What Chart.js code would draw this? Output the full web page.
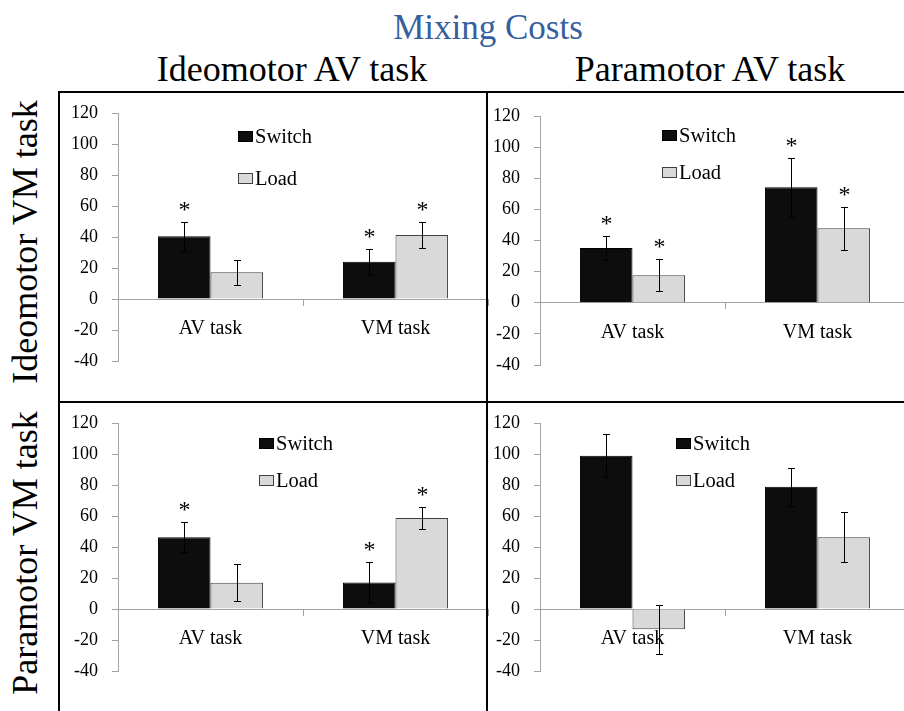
<!DOCTYPE html>
<html>
<head>
<meta charset="utf-8">
<script src="https://cdn.jsdelivr.net/npm/chart.js@4.4.0/dist/chart.umd.min.js"></script>
<style>
  html, body { margin: 0; padding: 0; background: #fff; overflow: hidden; }
  body { width: 904px; height: 711px; position: relative; font-family: "Liberation Serif", "Times New Roman", serif; }
  canvas { position: absolute; left: 0; top: 0; }
  .txt { position: absolute; white-space: nowrap; line-height: 1; color: #000; }
  .rule { position: absolute; background: #000; z-index: 5; }
</style>
</head>
<body>
<div class="txt" style="left:488px; top:10px; font-size:35px; color:#365f9e; transform:translateX(-50%);">Mixing Costs</div>
<div class="txt" style="left:292px; top:51px; font-size:36px; transform:translateX(-50%);">Ideomotor AV task</div>
<div class="txt" style="left:710px; top:51px; font-size:36px; transform:translateX(-50%);">Paramotor AV task</div>
<div class="txt" style="left:25px; top:242px; font-size:36px; transform:translate(-50%,-50%) rotate(-90deg);">Ideomotor VM task</div>
<div class="txt" style="left:25px; top:553px; font-size:36px; transform:translate(-50%,-50%) rotate(-90deg);">Paramotor VM task</div>

<canvas id="tl" width="920" height="711"></canvas>
<canvas id="tr" width="920" height="711"></canvas>
<canvas id="bl" width="920" height="711"></canvas>
<canvas id="br" width="920" height="711"></canvas>

<div class="rule" style="left:58px; top:91px; width:846px; height:2px;"></div>
<div class="rule" style="left:58px; top:401px; width:846px; height:2px;"></div>
<div class="rule" style="left:58px; top:91px; width:2px; height:620px;"></div>
<div class="rule" style="left:486px; top:91px; width:2px; height:620px;"></div>

<script>
const categories = ['AV task', 'VM task'];
const seriesNames = ['Switch', 'Load'];
const yTickValues = [-40, -20, 0, 20, 40, 60, 80, 100, 120];

// Ideomotor VM task / Ideomotor AV task (top left)
const ideoIdeoSwitch = [40.5, 24];
const ideoIdeoLoad = [17.2, 41.3];
const ideoIdeoSwitchErr = [9.3, 8.3];
const ideoIdeoLoadErr = [8.2, 8.7];
const ideoIdeoSwitchSig = [true, true];
const ideoIdeoLoadSig = [false, true];

// Ideomotor VM task / Paramotor AV task (top right)
const ideoParaSwitch = [35.2, 74.2];
const ideoParaLoad = [17.6, 47.8];
const ideoParaSwitchErr = [8, 18.8];
const ideoParaLoadErr = [10.3, 14];
const ideoParaSwitchSig = [true, true];
const ideoParaLoadSig = [true, true];

// Paramotor VM task / Ideomotor AV task (bottom left)
const paraIdeoSwitch = [46.3, 17.1];
const paraIdeoLoad = [16.9, 58.7];
const paraIdeoSwitchErr = [9.8, 13.5];
const paraIdeoLoadErr = [11.9, 7];
const paraIdeoSwitchSig = [true, true];
const paraIdeoLoadSig = [false, true];

// Paramotor VM task / Paramotor AV task (bottom right)
const paraParaSwitch = [98.8, 78.8];
const paraParaLoad = [-13.1, 46.3];
const paraParaSwitchErr = [13.9, 12.1];
const paraParaLoadErr = [15.8, 16.1];
const paraParaSwitchSig = [false, false];
const paraParaLoadSig = [false, false];

const FONT = '"Liberation Serif", "Times New Roman", serif';
const AXIS_GRAY = '#a3a3a3';
const Y_AXIS_W = 50;
const CANVAS_W = 920, CANVAS_H = 711;

// error bars + significance stars
const errorBarPlugin = {
    id: 'errorBars',
    afterDatasetsDraw(chart) {
        const ctx = chart.ctx;
        const yScale = chart.scales.y;
        chart.data.datasets.forEach((ds, i) => {
            const meta = chart.getDatasetMeta(i);
            meta.data.forEach((bar, j) => {
                const v = ds.data[j], e = ds.errors[j];
                const x = Math.round(bar.x) + 0.5;
                const top = Math.round(yScale.getPixelForValue(v + e)) + 0.5;
                const bottom = Math.round(yScale.getPixelForValue(v - e)) + 0.5;
                ctx.save();
                ctx.strokeStyle = '#000';
                ctx.lineWidth = 1;
                ctx.beginPath();
                ctx.moveTo(x, top); ctx.lineTo(x, bottom);
                ctx.moveTo(x - 3.5, top); ctx.lineTo(x + 3.5, top);
                ctx.moveTo(x - 3.5, bottom); ctx.lineTo(x + 3.5, bottom);
                ctx.stroke();
                if (ds.sig[j]) {
                    ctx.fillStyle = '#000';
                    ctx.font = '24px ' + FONT;
                    ctx.textAlign = 'center';
                    ctx.textBaseline = 'alphabetic';
                    ctx.fillText('*', x, top - 6);
                }
                ctx.restore();
            });
        });
    }
};

// legend drawn inside the plot
const boxLegendPlugin = {
    id: 'boxLegend',
    afterDraw(chart, args, opts) {
        const ctx = chart.ctx;
        const area = chart.chartArea;
        chart.data.datasets.forEach((ds, i) => {
            const x = area.left + opts.x;
            const y = area.top + opts.y + i * opts.gap;
            ctx.save();
            ctx.fillStyle = ds.backgroundColor;
            ctx.fillRect(x, y, 15, 11);
            ctx.strokeStyle = ds.borderColor;
            ctx.lineWidth = 1;
            ctx.strokeRect(x + 0.5, y + 0.5, 14, 10);
            ctx.fillStyle = '#000';
            ctx.font = '20.5px ' + FONT;
            ctx.textAlign = 'left';
            ctx.textBaseline = 'alphabetic';
            ctx.fillText(ds.label, x + 17, y + 12);
            ctx.restore();
        });
    }
};

function drawPanel(id, area, legendPos, switchVals, loadVals, switchErr, loadErr, switchSig, loadSig) {
    const canvas = document.getElementById(id);
    new Chart(canvas, {
        type: 'bar',
        data: {
            labels: categories,
            datasets: [{
                label: seriesNames[0],
                data: switchVals,
                errors: switchErr,
                sig: switchSig,
                backgroundColor: '#0d0d0d',
                borderColor: '#000000',
                borderWidth: 1,
                categoryPercentage: 0.568,
                barPercentage: 1
            }, {
                label: seriesNames[1],
                data: loadVals,
                errors: loadErr,
                sig: loadSig,
                backgroundColor: '#d9d9d9',
                borderColor: '#404040',
                borderWidth: 1,
                categoryPercentage: 0.568,
                barPercentage: 1
            }]
        },
        options: {
            responsive: false,
            animation: false,
            events: [],
            layout: {
                padding: {
                    left: area.left - Y_AXIS_W,
                    top: area.top,
                    right: CANVAS_W - area.right,
                    bottom: CANVAS_H - area.bottom
                }
            },
            plugins: {
                legend: { display: false },
                tooltip: { enabled: false },
                boxLegend: legendPos
            },
            scales: {
                x: {
                    position: { y: 0 },
                    offset: true,
                    border: { color: AXIS_GRAY, width: 1 },
                    grid: { drawOnChartArea: false, drawTicks: true, tickLength: 6, color: AXIS_GRAY, offset: true },
                    ticks: { color: '#000', font: { family: FONT, size: 20 }, padding: 12, maxRotation: 0 }
                },
                y: {
                    min: -40,
                    max: 120,
                    afterBuildTicks(scale) { scale.ticks = yTickValues.map(v => ({ value: v })); },
                    afterFit(scale) { scale.width = Y_AXIS_W; },
                    border: { color: AXIS_GRAY, width: 1 },
                    grid: { drawOnChartArea: false, tickLength: 6, color: AXIS_GRAY },
                    ticks: { color: '#000', font: { family: FONT, size: 18 }, padding: 14 }
                }
            }
        },
        plugins: [errorBarPlugin, boxLegendPlugin]
    });
}

function drawAll() {
    drawPanel('tl', { left: 118, top: 113, bottom: 361, right: 488 }, { x: 120, y: 18, gap: 42 },
        ideoIdeoSwitch, ideoIdeoLoad, ideoIdeoSwitchErr, ideoIdeoLoadErr, ideoIdeoSwitchSig, ideoIdeoLoadSig);
    drawPanel('tr', { left: 540, top: 116, bottom: 365, right: 910 }, { x: 122, y: 14, gap: 37 },
        ideoParaSwitch, ideoParaLoad, ideoParaSwitchErr, ideoParaLoadErr, ideoParaSwitchSig, ideoParaLoadSig);
    drawPanel('bl', { left: 118, top: 423, bottom: 671, right: 488 }, { x: 141, y: 15, gap: 37 },
        paraIdeoSwitch, paraIdeoLoad, paraIdeoSwitchErr, paraIdeoLoadErr, paraIdeoSwitchSig, paraIdeoLoadSig);
    drawPanel('br', { left: 540, top: 423, bottom: 671, right: 910 }, { x: 136, y: 15, gap: 37 },
        paraParaSwitch, paraParaLoad, paraParaSwitchErr, paraParaLoadErr, paraParaSwitchSig, paraParaLoadSig);
}

// make sure the serif face is ready before the canvases use it
Chart.defaults.font.family = FONT;
document.fonts.load('20px "Liberation Serif"').then(drawAll, drawAll);
</script>
</body>
</html>
